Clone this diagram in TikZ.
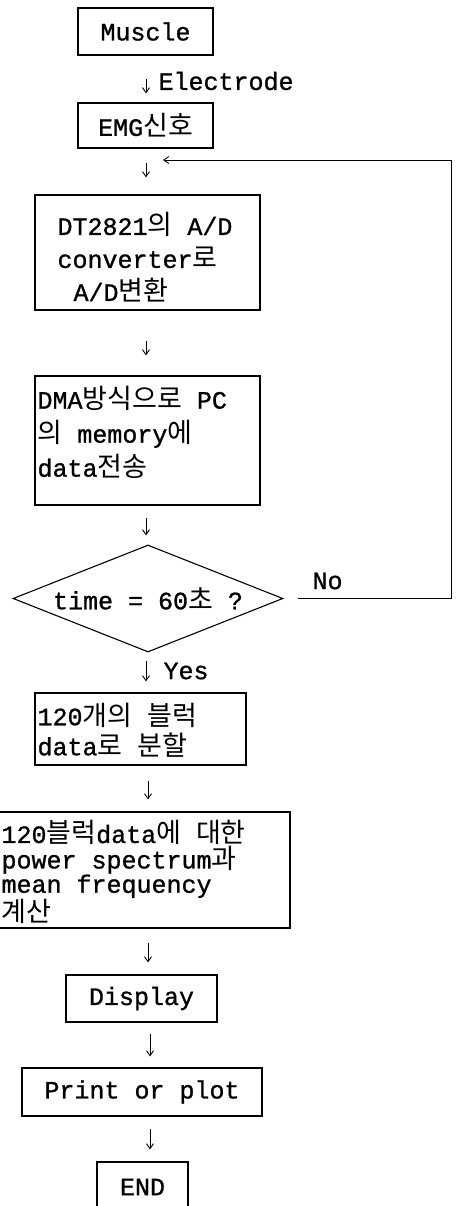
\documentclass[tikz,border=0pt]{standalone}
\usepackage{fontspec}
\setmainfont{Liberation Mono}[FakeBold=1]
\newfontfamily\korfont{Noto Sans CJK KR}[Scale=1.08]
\newcommand\kor[1]{{\korfont #1}}
\usetikzlibrary{shapes.geometric,arrows.meta}

\begin{document}
\begin{tikzpicture}[x=1pt,y=-1pt,line width=1.1pt,
  every node/.style={font=\fontsize{25}{30}\selectfont},
  box/.style={draw,rectangle,inner sep=0pt},
  boxtext/.style={inner sep=0pt,align=left,anchor=west},
  flow/.style={-{Straight Barb[length=5pt,width=7pt]},line width=0.9pt},
  lbl/.style={inner sep=0pt,anchor=west}]
\useasboundingbox (0,0) rectangle (456,1206);

% process boxes
\node[box,minimum width=135pt,minimum height=47pt] (muscle) at (145.5,31.5) {Muscle};
\node[box,minimum width=135pt,minimum height=45pt] (emg) at (145.5,125.5) {EMG\kor{신호}};

\node[box,minimum width=225pt,minimum height=115pt] (dt) at (147.5,252.5) {};
\node[boxtext,font=\fontsize{25}{33}\selectfont] (dttext) at (57,257.5)
  {DT2821\kor{의} A/D\\converter\kor{로}\\\hspace*{16pt}A/D\kor{변환}};

\node[box,minimum width=225pt,minimum height=129pt] (dma) at (147.5,440.5) {};
\node[boxtext,font=\fontsize{25}{34}\selectfont] (dmatext) at (37,432.5)
  {DMA\kor{방식으로} PC\\\kor{의} memory\kor{에}\\data\kor{전송}};

% decision
\node[draw,diamond,aspect=2.52,inner sep=0pt,minimum width=270pt,minimum height=107pt] (dia) at (148,598.5)
  {time = 60\kor{초} ?};

\node[box,minimum width=211pt,minimum height=72pt] (blk) at (140.5,729) {};
\node[boxtext,font=\fontsize{25}{30}\selectfont] (blktext) at (37,730)
  {120\kor{개의} \kor{블럭}\\data\kor{로} \kor{분할}};

\node[box,minimum width=292pt,minimum height=116pt] (psd) at (144,870) {};
\node[boxtext,font=\fontsize{25}{23}\selectfont] (psdtext) at (1,872)
  {120\kor{블럭}data\kor{에} \kor{대한}\\power spectrum\kor{과}\\mean frequency\\\kor{계산}};

\node[box,minimum width=151pt,minimum height=47pt] (disp) at (141.5,998.5) {Display};
\node[box,minimum width=240pt,minimum height=48pt] (print) at (142,1092) {Print or plot};
\node[box,minimum width=91pt,minimum height=50pt] (end) at (142.5,1187) {END};

% arrow columns
\coordinate (ax) at (146,0);
\coordinate (bx) at (148,0);
\coordinate (cx) at (150,0);

\draw[flow,shorten <=23pt,shorten >=9pt] (muscle.south -| ax) -- (emg.north -| ax);
\node[lbl] (electrode) at (158,81) {Electrode};
\draw[flow,shorten <=14pt,shorten >=17pt] (emg.south -| ax) -- (dt.north -| ax);
\draw[flow,shorten <=30pt,shorten >=20pt] (dt.south -| ax) -- (dma.north -| ax);
\draw[flow,shorten <=12pt,shorten >=9pt] (dma.south -| ax) -- (dia.north -| ax);
\draw[flow,shorten <=8pt,shorten >=11pt] (dia.south -| ax) -- (blk.north -| ax);
\node[lbl] (yes) at (163,671) {Yes};
\draw[flow,shorten <=15pt,shorten >=12pt] (blk.south -| bx) -- (psd.north -| bx);
\draw[flow,shorten <=14pt,shorten >=12pt] (psd.south -| bx) -- (disp.north -| bx);
\draw[flow,shorten <=11pt,shorten >=11pt] (disp.south -| cx) -- (print.north -| cx);
\draw[flow,shorten <=12pt,shorten >=12pt] (print.south -| cx) -- (end.north -| cx);

% loop back when the time is not reached
\coordinate (rail) at (451,0);
\coordinate (back) at (163,160);
\draw[flow,shorten <=14pt] (dia.east) -- (dia.east -| rail) |- (back);
\node[lbl] (no) at (312,581) {No};
\end{tikzpicture}
\end{document}
